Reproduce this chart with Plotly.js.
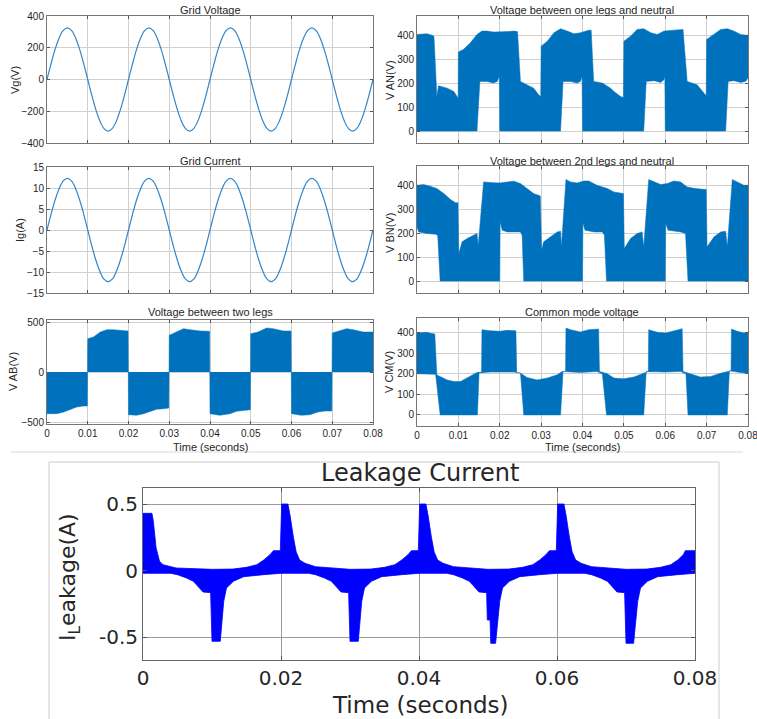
<!DOCTYPE html>
<html>
<head>
<meta charset="utf-8">
<script src="https://cdn.plot.ly/plotly-3.0.1.min.js"></script>
<style>html,body{margin:0;padding:0;background:#fff;}#chart{width:757px;height:719px;}</style>
</head>
<body>
<div id="chart"></div>
<script>
// ---------- data ----------
const sampleTime = [0,0.001,0.002,0.003,0.004,0.005,0.006,0.007,0.008,0.009,0.01,0.011,0.012,0.013,0.014,0.015,0.016,0.017,0.018,0.019,
0.02,0.021,0.022,0.023,0.024,0.025,0.026,0.027,0.028,0.029,0.03,0.031,0.032,0.033,0.034,0.035,0.036,0.037,0.038,0.039,
0.04,0.041,0.042,0.043,0.044,0.045,0.046,0.047,0.048,0.049,0.05,0.051,0.052,0.053,0.054,0.055,0.056,0.057,0.058,0.059,
0.06,0.061,0.062,0.063,0.064,0.065,0.066,0.067,0.068,0.069,0.07,0.071,0.072,0.073,0.074,0.075,0.076,0.077,0.078,0.079,0.08];

const gridVoltage = [0,100,191,263,309,325,309,263,191,100,0,-100,-191,-263,-309,-325,-309,-263,-191,-100,
0,100,191,263,309,325,309,263,191,100,0,-100,-191,-263,-309,-325,-309,-263,-191,-100,
0,100,191,263,309,325,309,263,191,100,0,-100,-191,-263,-309,-325,-309,-263,-191,-100,
0,100,191,263,309,325,309,263,191,100,0,-100,-191,-263,-309,-325,-309,-263,-191,-100,0];

const gridCurrent = [0,3.8,7.2,9.9,11.7,12.3,11.7,9.9,7.2,3.8,0,-3.8,-7.2,-9.9,-11.7,-12.3,-11.7,-9.9,-7.2,-3.8,
0,3.8,7.2,9.9,11.7,12.3,11.7,9.9,7.2,3.8,0,-3.8,-7.2,-9.9,-11.7,-12.3,-11.7,-9.9,-7.2,-3.8,
0,3.8,7.2,9.9,11.7,12.3,11.7,9.9,7.2,3.8,0,-3.8,-7.2,-9.9,-11.7,-12.3,-11.7,-9.9,-7.2,-3.8,
0,3.8,7.2,9.9,11.7,12.3,11.7,9.9,7.2,3.8,0,-3.8,-7.2,-9.9,-11.7,-12.3,-11.7,-9.9,-7.2,-3.8,0];

// V AN envelope (PWM band: upper and lower edge)
const vanUpperT = [0,0.0024,0.0036,0.0041,0.0048,0.0052,0.0073,0.0089,0.0097,0.00995,0.01,0.0112,0.0129,0.0145,0.0157,0.0169,0.0185,0.02,0.0218,0.0234,0.0243,0.025,0.0266,0.0282,0.0294,0.0299,
0.03,0.0315,0.0331,0.0347,0.0363,0.0379,0.0395,0.0415,0.0421,0.0427,0.0448,0.0468,0.0476,0.0492,0.0499,
0.05,0.0516,0.0532,0.0548,0.0565,0.0581,0.0597,0.0621,0.0643,0.0653,0.0677,0.0697,0.0699,
0.07,0.0718,0.0734,0.075,0.0766,0.0782,0.08];
const vanUpperV = [403,406,400,395,145,189,179,165,144,137,330,340,368,403,417,417,413,413,415,417,415,207,193,179,151,144,
354,375,410,427,417,406,410,421,421,207,200,179,165,144,140,
375,396,424,427,410,403,417,421,424,207,193,151,148,
382,403,424,427,417,403,399];
const vanLowerT = [0,0.0145,0.0152,0.0169,0.0185,0.0194,0.0199,0.02,0.0347,0.0353,0.0371,0.0387,0.0395,0.0399,0.04,
0.0548,0.0554,0.0573,0.0589,0.0597,0.0599,0.06,0.0746,0.0752,0.0766,0.0782,0.0794,0.08];
const vanLowerV = [0,0,207,207,200,207,228,0,0,207,207,200,207,228,0,
0,207,210,203,214,228,0,0,207,210,203,207,221];

// V BN envelope
const vbnUpperT = [0,0.0016,0.0032,0.0048,0.0065,0.0081,0.0093,0.0099,0.0101,0.0109,0.0121,0.0137,0.0145,0.0148,0.0161,0.0185,0.02,0.0218,0.0234,0.025,0.0266,0.0282,0.0298,
0.0301,0.0306,0.0323,0.0339,0.0347,0.0349,0.036,0.0371,0.0387,0.0403,0.0415,0.0435,0.046,0.0476,0.0499,
0.0501,0.0516,0.0532,0.0544,0.0548,0.056,0.0573,0.0589,0.0605,0.0621,0.0637,0.0653,0.0673,0.0699,
0.0701,0.0718,0.0734,0.0746,0.075,0.0762,0.0774,0.079,0.08];
const vbnUpperV = [403,406,399,389,368,343,330,330,116,165,179,193,200,150,417,414,413,417,420,410,389,368,358,
130,165,186,207,210,144,427,417,413,421,421,403,389,375,368,
137,179,200,207,144,427,417,406,410,421,417,396,389,385,
144,186,207,210,144,427,417,403,403];
const vbnLowerT = [0,0.0004,0.0024,0.0045,0.005,0.0056,0.02,0.0201,0.0206,0.0218,0.025,0.0254,0.0258,
0.04,0.0401,0.0406,0.0428,0.0448,0.0453,0.0458,0.06,0.0601,0.0607,0.0637,0.0649,0.0655,0.08];
const vbnLowerV = [228,207,200,197,193,0,0,249,214,207,207,193,0,
0,245,214,207,207,193,0,0,242,214,207,200,0,0];

// V AB envelope (band from 0 to this edge)
const vabT = [0,0.0024,0.0041,0.0057,0.0073,0.009,0.0099,0.01,0.0114,0.0131,0.0147,0.0163,0.018,0.0199,
0.02,0.022,0.0237,0.0253,0.0269,0.0286,0.0299,0.03,0.0318,0.0335,0.0351,0.0376,0.0399,
0.04,0.0424,0.0449,0.0465,0.0482,0.0499,0.05,0.0518,0.0539,0.0555,0.058,0.0599,
0.06,0.0624,0.0645,0.0665,0.0682,0.0699,0.07,0.0718,0.0735,0.0751,0.0776,0.08];
const vabV = [-417,-417,-400,-373,-350,-340,-340,333,350,400,423,423,417,410,
-427,-433,-417,-393,-373,-367,-360,367,400,433,423,410,407,
-417,-433,-417,-393,-383,-377,383,400,440,433,410,410,
-417,-433,-427,-400,-390,-390,390,410,433,423,400,400];

// V CM envelope
const vcmUpperT = [0,0.0024,0.0036,0.0043,0.0048,0.0052,0.0073,0.0089,0.0105,0.0121,0.0137,0.0145,0.0156,0.0157,0.0177,0.02,0.0218,0.0239,0.0241,0.025,0.0266,0.029,0.0315,0.0339,0.0351,0.0359,
0.036,0.0371,0.0395,0.0415,0.0439,0.0441,0.046,0.0476,0.05,0.0524,0.0548,0.0559,
0.056,0.0581,0.0601,0.0621,0.0641,0.0643,0.0661,0.0685,0.071,0.0734,0.0759,
0.076,0.0774,0.079,0.08];
const vcmUpperV = [400,403,397,395,196,191,171,163,163,180,201,207,209,416,411,408,413,411,207,204,183,171,180,196,212,212,
424,416,405,416,419,212,201,180,176,185,204,212,
416,403,400,411,421,212,201,185,188,204,215,
419,408,400,400];
const vcmLowerT = [0,0.0045,0.0056,0.0146,0.015,0.0177,0.0234,0.025,0.0258,0.0347,0.0353,0.0395,0.0435,0.0448,0.0458,
0.0548,0.0554,0.06,0.0637,0.065,0.0655,0.075,0.0755,0.0781,0.08];
const vcmLowerV = [201,198,0,0,205,209,209,204,0,0,212,207,212,200,0,
0,212,209,212,200,0,0,215,207,204];

// Leakage current envelope
const leakUpperT = [0,0.0013,0.0015,0.0019,0.0024,0.0029,0.0048,0.0078,0.01,0.013,0.015,0.0165,0.0175,0.0184,0.0189,0.0199,
0.0201,0.021,0.0213,0.0218,0.0222,0.0227,0.0235,0.025,0.0275,0.03,0.033,0.035,0.0365,0.0375,0.0384,0.0389,0.0399,
0.0401,0.041,0.0413,0.0418,0.0422,0.0427,0.0435,0.045,0.0475,0.05,0.053,0.055,0.0565,0.0575,0.0584,0.0589,0.0599,
0.0601,0.061,0.0613,0.0618,0.0622,0.0627,0.0635,0.065,0.0675,0.07,0.073,0.075,0.0765,0.0775,0.0783,0.0786,0.08];
const leakUpperV = [0.43,0.43,0.37,0.17,0.07,0.045,0.02,0.012,0.01,0.012,0.025,0.045,0.08,0.12,0.15,0.15,
0.5,0.5,0.42,0.25,0.14,0.08,0.055,0.03,0.018,0.01,0.012,0.025,0.045,0.08,0.12,0.15,0.15,
0.5,0.5,0.42,0.25,0.14,0.08,0.055,0.03,0.018,0.01,0.012,0.025,0.045,0.08,0.12,0.15,0.15,
0.5,0.5,0.42,0.25,0.14,0.08,0.055,0.03,0.018,0.01,0.012,0.025,0.045,0.08,0.12,0.15,0.15];
const leakLowerT = [0,0.004,0.005,0.0063,0.0073,0.008,0.0087,0.0098,0.01,0.0112,0.0114,0.0117,0.0121,0.0131,0.0146,0.0175,0.02,
0.024,0.025,0.0263,0.0273,0.028,0.0287,0.0298,0.03,0.0312,0.0314,0.0317,0.0321,0.0331,0.0346,0.0375,0.04,
0.044,0.045,0.0463,0.0473,0.048,0.0487,0.0498,0.0499,0.0503,0.0504,0.0511,0.0514,0.0517,0.0521,0.0531,0.0546,0.0575,0.06,
0.064,0.065,0.0663,0.0673,0.068,0.0687,0.0698,0.07,0.0711,0.0714,0.0717,0.0721,0.0731,0.0746,0.0775,0.08];
const leakLowerV = [-0.02,-0.02,-0.03,-0.055,-0.08,-0.12,-0.16,-0.165,-0.53,-0.53,-0.38,-0.23,-0.13,-0.08,-0.045,-0.03,-0.02,
-0.02,-0.03,-0.055,-0.08,-0.12,-0.16,-0.165,-0.53,-0.53,-0.38,-0.23,-0.13,-0.08,-0.045,-0.03,-0.02,
-0.02,-0.03,-0.055,-0.08,-0.12,-0.16,-0.165,-0.37,-0.37,-0.545,-0.545,-0.38,-0.23,-0.13,-0.08,-0.045,-0.03,-0.02,
-0.02,-0.03,-0.055,-0.08,-0.12,-0.16,-0.165,-0.545,-0.545,-0.38,-0.23,-0.13,-0.08,-0.045,-0.03,-0.02];

const xTickVals = [0,0.01,0.02,0.03,0.04,0.05,0.06,0.07,0.08];
const xTickText = ['0','0.01','0.02','0.03','0.04','0.05','0.06','0.07','0.08'];
const leakTickVals = [0,0.02,0.04,0.06,0.08];
const leakTickText = ['0','0.02','0.04','0.06','0.08'];

// ---------- helpers ----------
const W = 757, H = 719;
const MBLUE = '#0072BD';
function band(upT, upV, loT, loV) {
  return { x: upT.concat(loT.slice().reverse()), y: upV.concat(loV.slice().reverse()) };
}
function xd(l, r) { return [l / W, r / W]; }
function yd(t, b) { return [1 - b / H, 1 - t / H]; }
const mFont = { family: 'Liberation Sans, Arial, sans-serif', size: 10, color: '#1f1f1f' };
function mAxisX(l, r, anchor, labels) {
  return { domain: xd(l, r), anchor: anchor, range: [0, 0.08], tickvals: xTickVals, ticktext: xTickText,
    showticklabels: labels, ticks: 'inside', ticklen: 3, tickcolor: '#555', showline: true, mirror: 'ticks',
    linecolor: '#777', linewidth: 1, showgrid: true, gridcolor: '#cfcfcf', gridwidth: 1, zeroline: false,
    tickfont: mFont, fixedrange: true, ticklabeloverflow: 'allow' };
}
function mAxisY(t, b, anchor, range, tickvals) {
  return { domain: yd(t, b), anchor: anchor, range: range, tickvals: tickvals,
    ticks: 'inside', ticklen: 3, tickcolor: '#555', showline: true, mirror: 'ticks',
    linecolor: '#777', linewidth: 1, showgrid: true, gridcolor: '#cfcfcf', gridwidth: 1, zeroline: false,
    tickfont: mFont, fixedrange: true, ticklabeloverflow: 'allow' };
}
function ann(text, px, py, size, family, angle) {
  return { text: text, xref: 'paper', yref: 'paper', x: px / W, y: 1 - py / H, xanchor: 'center', yanchor: 'middle',
    showarrow: false, textangle: angle || 0, font: { family: family, size: size, color: '#262626' } };
}

// ---------- traces ----------
const van = band(vanUpperT, vanUpperV, vanLowerT, vanLowerV);
const vbn = band(vbnUpperT, vbnUpperV, vbnLowerT, vbnLowerV);
const vcm = band(vcmUpperT, vcmUpperV, vcmLowerT, vcmLowerV);
const leak = band(leakUpperT, leakUpperV, leakLowerT, leakLowerV);

const traces = [
  { x: sampleTime, y: gridVoltage, xaxis: 'x', yaxis: 'y', mode: 'lines', line: { color: '#2f86cc', width: 1.2, shape: 'spline' }, hoverinfo: 'skip' },
  { x: van.x, y: van.y, xaxis: 'x2', yaxis: 'y2', mode: 'lines', fill: 'toself', fillcolor: MBLUE, line: { color: MBLUE, width: 0.5 }, hoverinfo: 'skip' },
  { x: sampleTime, y: gridCurrent, xaxis: 'x3', yaxis: 'y3', mode: 'lines', line: { color: '#2f86cc', width: 1.2, shape: 'spline' }, hoverinfo: 'skip' },
  { x: vbn.x, y: vbn.y, xaxis: 'x4', yaxis: 'y4', mode: 'lines', fill: 'toself', fillcolor: MBLUE, line: { color: MBLUE, width: 0.5 }, hoverinfo: 'skip' },
  { x: vabT, y: vabV, xaxis: 'x5', yaxis: 'y5', mode: 'lines', fill: 'tozeroy', fillcolor: MBLUE, line: { color: MBLUE, width: 0.5 }, hoverinfo: 'skip' },
  { x: vcm.x, y: vcm.y, xaxis: 'x6', yaxis: 'y6', mode: 'lines', fill: 'toself', fillcolor: MBLUE, line: { color: MBLUE, width: 0.5 }, hoverinfo: 'skip' },
  { x: leak.x, y: leak.y, xaxis: 'x7', yaxis: 'y7', mode: 'lines', fill: 'toself', fillcolor: '#0000ff', line: { color: '#0000ff', width: 0.8 }, hoverinfo: 'skip' }
];

// ---------- layout ----------
const lFont = { family: 'DejaVu Sans, sans-serif', size: 20, color: '#262626' };
const layout = {
  width: W, height: H, margin: { l: 0, r: 0, t: 0, b: 0 }, showlegend: false,
  paper_bgcolor: '#ffffff', plot_bgcolor: '#ffffff', hovermode: false,
  xaxis: mAxisX(47, 373, 'y', false),
  yaxis: mAxisY(16, 143, 'x', [-400, 400], [-400, -200, 0, 200, 400]),
  xaxis2: mAxisX(417, 748, 'y2', false),
  yaxis2: mAxisY(16, 143, 'x2', [-50, 480], [0, 100, 200, 300, 400]),
  xaxis3: mAxisX(47, 373, 'y3', false),
  yaxis3: mAxisY(167, 293, 'x3', [-15, 15], [-15, -10, -5, 0, 5, 10, 15]),
  xaxis4: mAxisX(417, 748, 'y4', false),
  yaxis4: mAxisY(166, 293, 'x4', [-50, 484], [0, 100, 200, 300, 400]),
  xaxis5: mAxisX(47, 373, 'y5', true),
  yaxis5: mAxisY(320, 424, 'x5', [-520, 520], [-500, 0, 500]),
  xaxis6: mAxisX(417, 748, 'y6', true),
  yaxis6: mAxisY(318, 426, 'x6', [-54, 473], [0, 100, 200, 300, 400]),
  xaxis7: { domain: xd(143, 695), anchor: 'y7', range: [0, 0.08], tickvals: leakTickVals, ticktext: leakTickText,
    ticks: 'inside', ticklen: 4, tickcolor: '#555', showline: true, mirror: 'ticks', linecolor: '#666', linewidth: 1,
    showgrid: true, gridcolor: '#9a9a9a', gridwidth: 1, zeroline: false, tickfont: lFont, fixedrange: true, ticklabeloverflow: 'allow' },
  yaxis7: { domain: yd(488, 660), anchor: 'x7', range: [-0.67, 0.62], tickvals: [-0.5, 0, 0.5], ticktext: ['-0.5', '0', '0.5'],
    ticks: 'inside', ticklen: 4, tickcolor: '#555', showline: true, mirror: 'ticks', linecolor: '#666', linewidth: 1,
    showgrid: true, gridcolor: '#9a9a9a', gridwidth: 1, zeroline: false, tickfont: lFont, fixedrange: true, ticklabeloverflow: 'allow' },
  shapes: [
    { type: 'line', xref: 'paper', yref: 'paper', x0: 11 / W, x1: 743 / W, y0: 1 - 452 / H, y1: 1 - 452 / H, line: { color: '#d9d9d9', width: 1 } },
    { type: 'rect', xref: 'paper', yref: 'paper', x0: 49 / W, x1: 719 / W, y0: -0.01, y1: 1 - 462 / H, line: { color: '#cccccc', width: 1 } }
  ],
  annotations: [
    ann('Grid Voltage', 210, 10, 11, 'Liberation Sans, Arial, sans-serif'),
    ann('Voltage between one legs and neutral', 582, 10, 11, 'Liberation Sans, Arial, sans-serif'),
    ann('Grid Current', 210, 161, 11, 'Liberation Sans, Arial, sans-serif'),
    ann('Voltage between 2nd legs and neutral', 582, 161, 11, 'Liberation Sans, Arial, sans-serif'),
    ann('Voltage between two legs', 210, 312, 11, 'Liberation Sans, Arial, sans-serif'),
    ann('Common mode voltage', 582, 312, 11, 'Liberation Sans, Arial, sans-serif'),
    ann('Time (seconds)', 210, 447, 11, 'Liberation Sans, Arial, sans-serif'),
    ann('Time (seconds)', 582, 447, 11, 'Liberation Sans, Arial, sans-serif'),
    ann('Vg(V)', 15, 80, 11, 'Liberation Sans, Arial, sans-serif', -90),
    ann('Ig(A)', 20, 230, 11, 'Liberation Sans, Arial, sans-serif', -90),
    ann('V AB(V)', 13, 372, 11, 'Liberation Sans, Arial, sans-serif', -90),
    ann('V AN(V)', 390, 80, 11, 'Liberation Sans, Arial, sans-serif', -90),
    ann('V BN(V)', 390, 233, 11, 'Liberation Sans, Arial, sans-serif', -90),
    ann('V CM(V)', 389, 372, 11, 'Liberation Sans, Arial, sans-serif', -90),
    ann('Leakage Current', 420, 473, 24, 'DejaVu Sans, sans-serif'),
    ann('Time (seconds)', 420, 705, 23, 'DejaVu Sans, sans-serif'),
    ann('I<sub>L</sub>eakage(A)', 69, 577, 22, 'DejaVu Sans, sans-serif', -90)
  ]
};

Plotly.newPlot('chart', traces, layout, { staticPlot: true, displayModeBar: false });
</script>
</body>
</html>
